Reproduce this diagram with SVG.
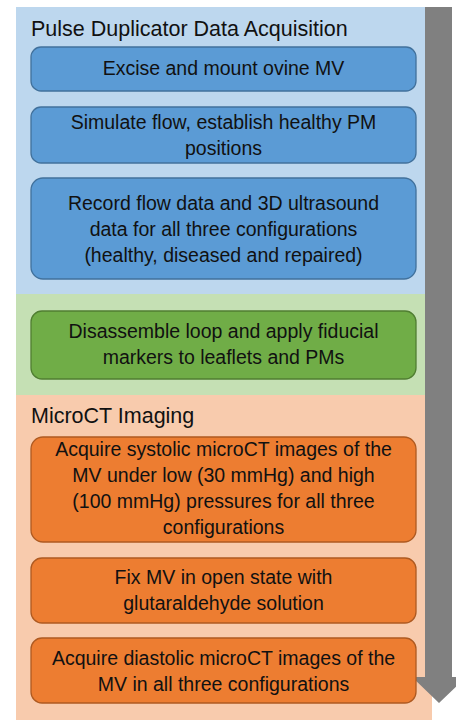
<svg xmlns="http://www.w3.org/2000/svg" width="456" height="721" viewBox="0 0 456 721">
<style>
  text { font-family: "Liberation Sans", Arial, sans-serif; fill: #111; }
  .title { font-size: 21.5px; }
  .lbl { font-size: 19.5px; text-anchor: middle; }
  .blue { fill: #5B9BD5; stroke: #41719C; stroke-width: 1.3; }
  .green { fill: #70AD47; stroke: #507E32; stroke-width: 1.3; }
  .orange { fill: #ED7D31; stroke: #AE5A21; stroke-width: 1.3; }
</style>
<g id="panels">
  <rect x="16" y="7" width="416" height="287" fill="#BDD7EE"/>
  <rect x="16" y="294" width="416" height="101" fill="#C5E0B4"/>
  <rect x="16" y="395" width="416" height="325" fill="#F8CBAD"/>
  <text class="title" x="31" y="35.5">Pulse Duplicator Data Acquisition</text>
  <text class="title" x="31" y="423">MicroCT Imaging</text>
</g>
<g id="connectors">
  <polygon points="425,7 452,7 452,677 466,677 439,703 412,677 425,677" fill="#808080"/>
</g>
<g id="n1">
  <rect class="blue" x="31" y="47" width="385" height="44" rx="10"/>
  <text class="lbl" x="223.5" y="75">Excise and mount ovine MV</text>
</g>
<g id="n2">
  <rect class="blue" x="31" y="107" width="385" height="56" rx="10"/>
  <text class="lbl" x="223.5" y="129">Simulate flow, establish healthy PM</text>
  <text class="lbl" x="223.5" y="155">positions</text>
</g>
<g id="n3">
  <rect class="blue" x="31" y="178" width="385" height="101" rx="12"/>
  <text class="lbl" x="223.5" y="210">Record flow data and 3D ultrasound</text>
  <text class="lbl" x="223.5" y="236">data for all three configurations</text>
  <text class="lbl" x="223.5" y="262">(healthy, diseased and repaired)</text>
</g>
<g id="n4">
  <rect class="green" x="31" y="311" width="385" height="68" rx="11"/>
  <text class="lbl" x="223.5" y="338">Disassemble loop and apply fiducial</text>
  <text class="lbl" x="223.5" y="364">markers to leaflets and PMs</text>
</g>
<g id="n5">
  <rect class="orange" x="31" y="437" width="385" height="105" rx="12"/>
  <text class="lbl" x="223.5" y="456">Acquire systolic microCT images of the</text>
  <text class="lbl" x="223.5" y="482">MV under low (30 mmHg) and high</text>
  <text class="lbl" x="223.5" y="508">(100 mmHg) pressures for all three</text>
  <text class="lbl" x="223.5" y="534">configurations</text>
</g>
<g id="n6">
  <rect class="orange" x="31" y="558" width="385" height="65" rx="11"/>
  <text class="lbl" x="223.5" y="584">Fix MV in open state with</text>
  <text class="lbl" x="223.5" y="610">glutaraldehyde solution</text>
</g>
<g id="n7">
  <rect class="orange" x="31" y="638" width="385" height="65" rx="11"/>
  <text class="lbl" x="223.5" y="665">Acquire diastolic microCT images of the</text>
  <text class="lbl" x="223.5" y="691">MV in all three configurations</text>
</g>
</svg>
